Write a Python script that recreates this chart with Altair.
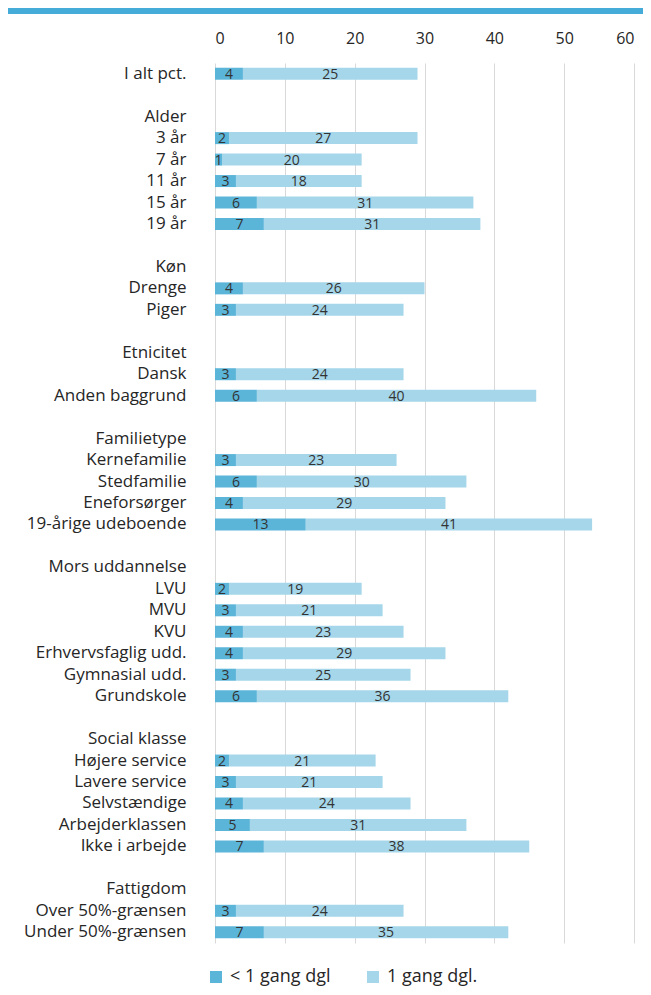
import altair as alt
import pandas as pd

# Row labels in display order (group headers have no bars; blank rows are spacers)
rows = [
    "I alt pct.", " ",
    "Alder", "3 år", "7 år", "11 år", "15 år", "19 år", "  ",
    "Køn", "Drenge", "Piger", "   ",
    "Etnicitet", "Dansk", "Anden baggrund", "    ",
    "Familietype", "Kernefamilie", "Stedfamilie", "Eneforsørger", "19-årige udeboende", "     ",
    "Mors uddannelse", "LVU", "MVU", "KVU", "Erhvervsfaglig udd.", "Gymnasial udd.", "Grundskole", "      ",
    "Social klasse", "Højere service", "Lavere service", "Selvstændige", "Arbejderklassen", "Ikke i arbejde", "       ",
    "Fattigdom", "Over 50%-grænsen", "Under 50%-grænsen",
]

categories = [
    "I alt pct.",
    "3 år", "7 år", "11 år", "15 år", "19 år",
    "Drenge", "Piger",
    "Dansk", "Anden baggrund",
    "Kernefamilie", "Stedfamilie", "Eneforsørger", "19-årige udeboende",
    "LVU", "MVU", "KVU", "Erhvervsfaglig udd.", "Gymnasial udd.", "Grundskole",
    "Højere service", "Lavere service", "Selvstændige", "Arbejderklassen", "Ikke i arbejde",
    "Over 50%-grænsen", "Under 50%-grænsen",
]
less_than_daily = [4, 2, 1, 3, 6, 7, 4, 3, 3, 6, 3, 6, 4, 13, 2, 3, 4, 4, 3, 6, 2, 3, 4, 5, 7, 3, 7]
daily = [25, 27, 20, 18, 31, 31, 26, 24, 24, 40, 23, 30, 29, 41, 19, 21, 23, 29, 25, 36, 21, 21, 24, 31, 38, 24, 35]

series = ["< 1 gang dgl", "1 gang dgl."]
colors = ["#5bb5d9", "#a5d6e9"]

FONT = "Open Sans"
TXT = "#262626"

recs = []
for c, a, b in zip(categories, less_than_daily, daily):
    recs.append({"cat": c, "serie": series[0], "start": 0, "end": a, "mid": a / 2, "val": a})
    recs.append({"cat": c, "serie": series[1], "start": a, "end": a + b, "mid": a + b / 2, "val": b})
df = pd.DataFrame(recs)

yscale = alt.Scale(domain=rows, paddingInner=0, paddingOuter=0, range=[0, 880])
yenc = alt.Y("cat:N", sort=rows, scale=yscale,
             axis=alt.Axis(title=None, domain=False, ticks=False, labelPadding=29,
                           labelFontSize=17, labelColor=TXT, labelFont=FONT,
                           labelLimit=300))
xscale = alt.Scale(domain=[0, 60], nice=False)

bars = alt.Chart(df).mark_bar(size=12).encode(
    y=yenc,
    x=alt.X("start:Q", scale=xscale,
            axis=alt.Axis(orient="top", title=None, values=[0, 10, 20, 30, 40, 50, 60],
                          domain=False, ticks=False, grid=True, gridColor="#d9d9d9",
                          labelFontSize=16, labelColor=TXT, labelFont=FONT,
                          labelPadding=17)),
    x2="end:Q",
    color=alt.Color("serie:N", sort=series,
                    scale=alt.Scale(domain=series, range=colors),
                    legend=alt.Legend(title=None, orient="none", legendX=-8, legendY=905,
                                      direction="horizontal",
                                      symbolType="square", symbolSize=144, symbolStrokeWidth=0,
                                      labelFontSize=18, labelColor=TXT, labelFont=FONT,
                                      labelOffset=5, columnPadding=33)),
)

labels = alt.Chart(df).mark_text(fontSize=14, color="#333333", font=FONT, baseline="middle", dy=1).encode(
    y=alt.Y("cat:N", sort=rows),
    x=alt.X("mid:Q", scale=xscale),
    text=alt.Text("val:Q"),
)

topline = alt.Chart(pd.DataFrame({"a": [0]})).mark_rect(color="#45acd9").encode(
    x=alt.value(-207), x2=alt.value(428), y=alt.value(-55), y2=alt.value(-49)
)

chart = alt.layer(bars, labels, topline).properties(
    width=419, height=898, padding=0
).configure_view(stroke=None)

chart.save("out.html", embed_options={"renderer": "svg", "actions": False})
